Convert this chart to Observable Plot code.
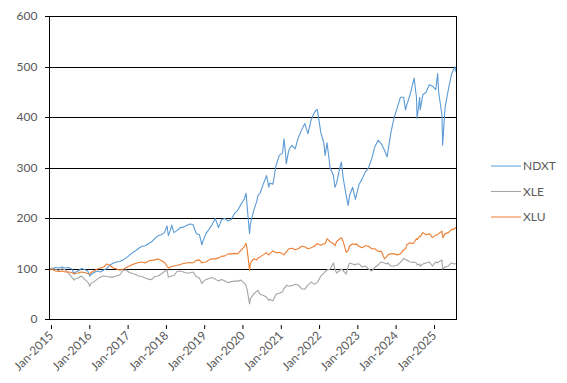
<!DOCTYPE html>
<html><head><meta charset="utf-8">
<script src="https://cdn.jsdelivr.net/npm/d3@7"></script>
<script src="https://cdn.jsdelivr.net/npm/@observablehq/plot@0.6"></script>
<style>
html,body{margin:0;padding:0;background:#fff;}
#chart{position:relative;width:567px;height:383px;}
</style></head><body><div id="chart"></div>
<script>
// ---- data ----
const dates = [
  "2015-01-01","2015-02-01","2015-03-01","2015-04-01","2015-05-01","2015-06-01","2015-07-01","2015-08-01","2015-08-25","2015-09-01","2015-10-01","2015-11-01","2015-12-01",
  "2016-01-01","2016-01-20","2016-02-01","2016-03-01","2016-04-01","2016-05-01","2016-06-01","2016-07-01","2016-08-01","2016-09-01","2016-10-01","2016-11-01","2016-12-01",
  "2017-01-01","2017-02-01","2017-03-01","2017-04-01","2017-05-01","2017-06-01","2017-07-01","2017-08-01","2017-09-01","2017-10-01","2017-11-01","2017-12-01",
  "2018-01-01","2018-01-26","2018-02-08","2018-03-01","2018-03-12","2018-04-01","2018-05-01","2018-06-01","2018-07-01","2018-08-01","2018-09-01","2018-10-01","2018-11-01","2018-12-01","2018-12-24",
  "2019-01-01","2019-02-01","2019-03-01","2019-04-01","2019-05-01","2019-06-01","2019-07-01","2019-08-01","2019-09-01","2019-10-01","2019-11-01","2019-12-01",
  "2020-01-01","2020-02-01","2020-02-19","2020-03-01","2020-03-23","2020-04-01","2020-05-01","2020-06-01","2020-06-10","2020-07-01","2020-08-01","2020-09-01","2020-09-23","2020-10-01","2020-11-01","2020-12-01",
  "2021-01-01","2021-02-01","2021-02-15","2021-03-01","2021-03-08","2021-04-01","2021-05-01","2021-06-01","2021-07-01","2021-08-01","2021-09-01","2021-10-01","2021-11-01","2021-12-01","2021-12-27",
  "2022-01-01","2022-02-01","2022-03-01","2022-03-14","2022-04-01","2022-05-01","2022-06-01","2022-06-16","2022-07-01","2022-08-01","2022-08-16","2022-09-01","2022-10-01","2022-10-20","2022-11-01","2022-12-01","2022-12-28",
  "2023-01-01","2023-02-01","2023-03-01","2023-04-01","2023-05-01","2023-06-01","2023-07-01","2023-08-01","2023-09-01","2023-10-01","2023-10-26","2023-11-01","2023-12-01",
  "2024-01-01","2024-02-01","2024-03-01","2024-04-01","2024-04-19","2024-05-01","2024-06-01","2024-07-01","2024-07-10","2024-08-01","2024-08-07","2024-09-01","2024-09-06","2024-10-01","2024-11-01","2024-12-01",
  "2025-01-01","2025-02-01","2025-02-19","2025-03-01","2025-04-01","2025-04-08","2025-05-01","2025-06-01","2025-07-01","2025-08-01","2025-08-15"
];
const ndxt = [
  100,101,103,102,104,102,103,100,90,93,96,101,99,
  96,86,89,93,96,94,98,101,108,112,114,115,118,
  122,127,132,136,141,145,146,150,154,160,166,168,
  172,185,166,178,187,172,176,182,183,186,189,188,170,168,148,
  154,170,178,188,200,182,198,200,195,198,210,216,
  228,238,250,222,170,190,215,235,245,250,268,285,262,270,268,305,
  325,330,358,330,308,335,345,338,360,375,388,368,396,410,416,
  412,370,350,325,350,300,285,262,270,300,312,282,245,226,245,262,238,
  242,268,278,292,300,318,342,355,348,335,322,330,370,
  400,420,440,440,415,425,445,470,478,440,398,440,415,445,450,465,
  462,455,487,450,405,345,420,455,485,500,490
];
const xle = [
  100,102,99,97,101,98,92,84,78,80,82,86,80,
  74,66,72,75,80,84,86,85,84,84,86,88,97,
  98,93,91,89,86,85,82,80,79,85,86,90,
  95,98,84,85,86,87,95,96,94,92,92,94,85,82,71,
  74,79,81,83,80,76,79,76,73,75,76,76,
  78,72,67,58,31,42,50,56,58,50,48,44,38,40,37,50,
  52,55,62,64,68,66,67,70,68,61,60,68,74,70,73,
  74,86,92,95,98,100,112,100,92,97,100,97,90,105,112,110,108,
  110,110,104,106,100,96,103,108,114,112,110,112,106,
  106,108,113,121,118,118,114,113,114,112,108,110,105,110,112,114,
  106,114,112,114,118,100,104,106,112,110,111
];
const xlu = [
  100,99,96,95,96,94,94,93,90,91,92,94,93,
  91,90,93,96,100,102,104,110,107,102,100,98,99,
  103,106,109,111,113,114,112,116,117,118,120,117,
  113,106,102,104,105,106,107,109,111,112,113,112,117,118,112,
  113,114,118,120,120,122,125,126,130,130,131,130,
  137,144,151,138,97,112,120,118,122,124,128,132,128,130,136,132,
  133,130,128,132,134,140,141,138,140,145,144,140,142,145,150,
  150,147,150,150,160,154,150,146,154,160,162,155,133,137,145,150,148,
  150,145,142,146,145,140,140,135,135,120,125,128,130,
  130,128,130,138,140,148,152,150,153,160,158,165,164,172,168,170,
  162,167,168,170,175,162,170,172,178,180,183
];
const seriesNames = ["NDXT", "XLE", "XLU"];
const seriesColors = ["#5B9BD5", "#A5A5A5", "#ED7D31"];
const yTicks = [0, 100, 200, 300, 400, 500, 600];
const xTicks = ["2015-01-01","2016-01-01","2017-01-01","2018-01-01","2019-01-01","2020-01-01","2021-01-01","2022-01-01","2023-01-01","2024-01-01","2025-01-01"];
const xDomain = ["2015-01-01", "2025-08-18"];

// ---- build ----
const parse = d3.utcParse("%Y-%m-%d");
const seriesValues = [ndxt, xle, xlu];
const rows = [];
seriesNames.forEach((name, k) => {
  dates.forEach((d, i) => rows.push({date: parse(d), value: seriesValues[k][i], series: name}));
});

const FONT = "Lato, 'Open Sans', sans-serif";
const TEXT = "#595959";

const plot = Plot.plot({
  width: 567, height: 383,
  marginLeft: 49, marginRight: 111, marginTop: 16, marginBottom: 64,
  style: {fontFamily: FONT, fontSize: "12px", background: "#fff", overflow: "visible"},
  x: {type: "utc", domain: xDomain.map(parse)},
  y: {domain: [0, 600]},
  color: {domain: seriesNames, range: seriesColors},
  marks: [
    Plot.gridY(yTicks, {stroke: "#000", strokeOpacity: 1, strokeWidth: 1, shapeRendering: "crispEdges"}),
    Plot.axisY(yTicks, {tickSize: 4, tickPadding: 8, stroke: "#000", fill: TEXT, label: null, shapeRendering: "crispEdges"}),
    Plot.axisX(xTicks.map(parse), {tickSize: 4, tickPadding: 4, dx: 2, dy: 6, tickRotate: -45, tickFormat: d3.utcFormat("%b-%Y"), stroke: "#000", fill: TEXT, label: null}),
    Plot.lineY(rows, {x: "date", y: "value", z: "series", stroke: "series", strokeWidth: 1.1}),
    Plot.frame({stroke: "#000", strokeWidth: 1, shapeRendering: "crispEdges"})
  ]
});

// legend (line swatches to the right of the plot)
const svg = d3.select(plot);
const lg = svg.append("g").attr("font-family", FONT).attr("font-size", 12).attr("fill", TEXT).attr("text-anchor", "start");
seriesNames.forEach((name, i) => {
  const y = 166 + i * 25.5;
  lg.append("line").attr("x1", 491).attr("x2", 521).attr("y1", y).attr("y2", y)
    .attr("stroke", seriesColors[i]).attr("stroke-width", 1);
  lg.append("text").attr("x", 523).attr("y", y).attr("dy", "0.35em").text(name);
});

document.getElementById("chart").appendChild(plot);
</script>
</body></html>
